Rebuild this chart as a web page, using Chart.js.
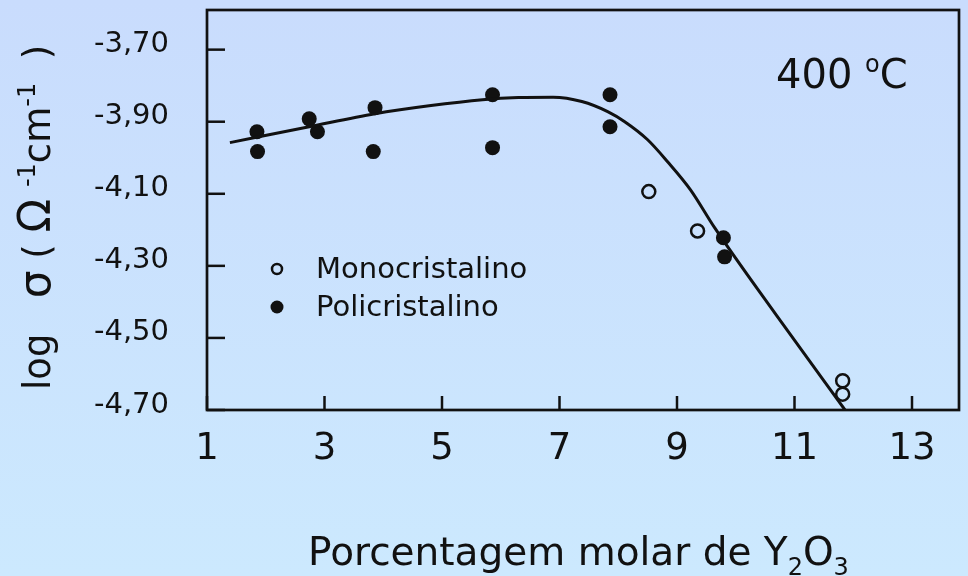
<!DOCTYPE html>
<html>
<head>
<meta charset="utf-8">
<script src="https://cdn.jsdelivr.net/npm/chart.js@4.4.1/dist/chart.umd.min.js"></script>
<style>
  html, body { margin: 0; padding: 0; }
  body { width: 968px; height: 576px; background: linear-gradient(#c9dcfd, #cce9fe); overflow: hidden; }
  canvas { display: block; }
</style>
</head>
<body>
<canvas id="chart" width="968" height="576"></canvas>
<script>
const xTickValues = [1, 3, 5, 7, 9, 11, 13];
const yTickValues = [-3.7, -3.9, -4.1, -4.3, -4.5, -4.7];

// monocristalino (open circles)
const monoX = [8.52, 9.35, 11.82, 11.82];
const monoY = [-4.094, -4.203, -4.619, -4.656];

// policristalino (filled circles)
const poliX = [1.85, 1.86, 2.74, 2.88, 3.86, 3.83, 5.86, 5.86, 7.86, 7.86, 9.79, 9.81];
const poliY = [-3.928, -3.983, -3.892, -3.928, -3.861, -3.983, -3.825, -3.972, -3.825, -3.914, -4.222, -4.275];

// fitted curve
const fitX = [1.39, 2.74, 3.86, 4.78, 5.69, 6.3, 6.89, 7.38, 7.82, 8.11, 8.5, 8.84, 9.23, 9.64, 10.7, 11.86];
const fitY = [-3.958, -3.914, -3.878, -3.856, -3.839, -3.833, -3.832, -3.844, -3.872, -3.9, -3.95, -4.011, -4.089, -4.194, -4.439, -4.7];

const FONT = "'DejaVu Sans', Verdana, sans-serif";
const INK = "#111";
const AREA_TOP = 10;

const pts = (xs, ys) => xs.map((x, i) => ({ x, y: ys[i] }));

// box + inward tick marks
const frame = {
  id: "frame",
  afterDatasetsDraw(chart) {
    const { ctx, chartArea: a, scales } = chart;
    ctx.save();
    ctx.strokeStyle = INK;
    ctx.lineWidth = 2.7;
    ctx.strokeRect(a.left, a.top, a.right - a.left, a.bottom - a.top);
    ctx.lineWidth = 2.5;
    scales.y.ticks.forEach((t) => {
      const y = scales.y.getPixelForValue(t.value);
      ctx.beginPath();
      ctx.moveTo(a.left, y);
      ctx.lineTo(a.left + 18, y);
      ctx.stroke();
    });
    scales.x.ticks.forEach((t) => {
      const x = scales.x.getPixelForValue(t.value);
      ctx.beginPath();
      ctx.moveTo(x, a.bottom);
      ctx.lineTo(x, a.bottom - 14);
      ctx.stroke();
    });
    ctx.restore();
  },
};

// titles, legend, annotation
const labels = {
  id: "labels",
  afterDraw(chart) {
    const { ctx, chartArea: a } = chart;
    ctx.save();
    ctx.fillStyle = INK;
    ctx.textBaseline = "alphabetic";
    ctx.textAlign = "left";

    // y title, rotated
    ctx.save();
    ctx.translate(50, 390);
    ctx.rotate(-Math.PI / 2);
    let x = 0;
    const put = (txt, size, dy) => {
      ctx.font = `${size}px ${FONT}`;
      ctx.fillText(txt, x, dy);
      x += ctx.measureText(txt).width;
    };
    put("log   ", 37, 0);
    put("σ", 44, 0);
    put(" ( ", 37, 0);
    put("Ω", 44, 0);
    put(" ", 37, 0);
    put("-1", 24, -15);
    put("cm", 37, 0);
    put("-1", 24, -15);
    put("  )", 37, 0);
    ctx.restore();

    // x title
    x = 308;
    const base = 565;
    ctx.font = `39px ${FONT}`;
    ctx.fillText("Porcentagem molar de Y", x, base);
    x += ctx.measureText("Porcentagem molar de Y").width;
    ctx.font = `24px ${FONT}`;
    ctx.fillText("2", x, base + 10);
    x += ctx.measureText("2").width;
    ctx.font = `39px ${FONT}`;
    ctx.fillText("O", x, base);
    x += ctx.measureText("O").width;
    ctx.font = `24px ${FONT}`;
    ctx.fillText("3", x, base + 10);

    // temperature note
    x = 776;
    ctx.font = `40px ${FONT}`;
    ctx.fillText("400 ", x, 88);
    x += ctx.measureText("400 ").width;
    ctx.font = `24px ${FONT}`;
    ctx.fillText("o", x, 72);
    x += ctx.measureText("o").width;
    ctx.font = `40px ${FONT}`;
    ctx.fillText("C", x, 88);

    // legend
    const lx = a.left + 70;
    ctx.lineWidth = 2.5;
    ctx.strokeStyle = INK;
    ctx.beginPath();
    ctx.arc(lx, 269, 5, 0, Math.PI * 2);
    ctx.stroke();
    ctx.beginPath();
    ctx.arc(lx, 307, 6.5, 0, Math.PI * 2);
    ctx.fill();
    ctx.font = `29px ${FONT}`;
    ctx.textBaseline = "middle";
    ctx.fillText("Monocristalino", lx + 39, 270);
    ctx.fillText("Policristalino", lx + 39, 308);
    ctx.restore();
  },
};

const chart = new Chart(document.getElementById("chart"), {
  type: "scatter",
  data: {
    datasets: [
      {
        label: "ajuste",
        data: pts(fitX, fitY),
        showLine: true,
        borderColor: INK,
        borderWidth: 3,
        pointRadius: 0,
        cubicInterpolationMode: "monotone",
      },
      {
        label: "Monocristalino",
        data: pts(monoX, monoY),
        pointStyle: "circle",
        pointRadius: 6.5,
        borderWidth: 2.5,
        borderColor: INK,
        backgroundColor: "rgba(0,0,0,0)",
      },
      {
        label: "Policristalino",
        data: pts(poliX, poliY),
        pointStyle: "circle",
        pointRadius: 7.5,
        borderWidth: 0,
        backgroundColor: INK,
      },
    ],
  },
  options: {
    responsive: false,
    animation: false,
    layout: { padding: { top: AREA_TOP, right: 5, left: 0, bottom: 0 } },
    plugins: { legend: { display: false }, tooltip: { enabled: false } },
    scales: {
      x: {
        type: "linear",
        min: 1,
        max: 13.8,
        afterBuildTicks: (s) => { s.ticks = xTickValues.map((v) => ({ value: v })); },
        afterFit: (s) => { s.height = 166; s.paddingLeft = 0; s.paddingRight = 0; },
        grid: { display: false, drawTicks: false },
        border: { display: false },
        ticks: {
          padding: 17,
          color: INK,
          font: { family: FONT, size: 37 },
          maxRotation: 0,
          callback: (v) => String(v),
        },
      },
      y: {
        type: "linear",
        min: -4.7,
        max: -3.59,
        afterBuildTicks: (s) => { s.ticks = yTickValues.map((v) => ({ value: v })); },
        afterFit: (s) => { s.width = 207; s.paddingTop = 0; s.paddingBottom = 0; },
        grid: { display: false, drawTicks: false },
        border: { display: false },
        ticks: {
          padding: 38,
          labelOffset: -5,
          color: INK,
          font: { family: FONT, size: 29 },
          callback: (v) => v.toFixed(2).replace(".", ","),
        },
      },
    },
  },
  plugins: [frame, labels],
});

// pin the plot box to where the figure has it
const dTop = chart.chartArea.top - AREA_TOP;
if (Math.abs(dTop) > 0.5) {
  chart.options.layout.padding.top = AREA_TOP - dTop;
  chart.update();
}
</script>
</body>
</html>
